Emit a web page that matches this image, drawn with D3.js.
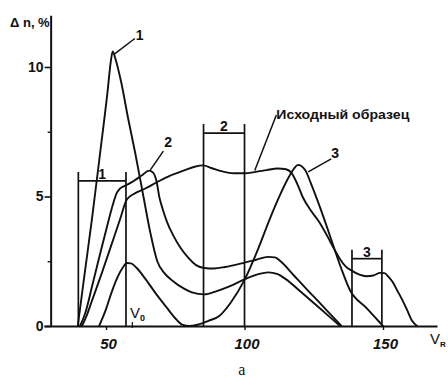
<!DOCTYPE html>
<html>
<head>
<meta charset="utf-8">
<script src="https://cdn.jsdelivr.net/npm/d3@7"></script>
<style>
  body { margin: 0; background: #fff; }
  svg text { fill: #111; }
</style>
</head>
<body>
<svg id="chart" width="448" height="378"></svg>
<script>
// Δn (%) against V_R for the fractions and the starting sample
const curve1 = [[39.8,0],[42,1.8],[45,4.2],[48,6.8],[50.5,9.0],[51.7,10.2],[52.4,10.6],[53.3,10.35],
  [55.5,9.4],[58,8.0],[60.5,6.7],[63.5,5.0],[66,3.6],[68.5,2.5],[71,2.05],[74,1.75],[78,1.45],
  [81,1.3],[85.5,1.22],[90,1.35],[95,1.55],[100,1.8],[105,2.0],[108.5,2.07],[112,2.0],[115,1.8],
  [120,1.35],[125,0.89],[130,0.42],[134.5,0]];

const curve2 = [[40.6,0],[42.5,0.5],[45,1.55],[48,2.85],[50.5,3.9],[52.5,4.7],[53.8,5.12],[55,5.3],
  [57,5.42],[60,5.6],[63,5.82],[65.5,6.0],[67,5.92],[68.2,5.6],[69.3,4.95],[70.5,4.5],[72,4.02],
  [74.5,3.45],[77,3.0],[80,2.6],[82.5,2.35],[85.5,2.24],[89,2.22],[93,2.28],[99,2.42],[104,2.55],
  [108.5,2.67],[111,2.65],[113,2.5],[118,1.93],[123,1.36],[128,0.8],[132,0.34],[135,0]];

const curve3 = [[47.5,0],[50,0.65],[52,1.3],[54,1.85],[56,2.25],[57.5,2.43],[59,2.42],[61,2.25],
  [64,1.85],[68,1.25],[72,0.7],[75,0.3],[77.5,0.05],[80,0],[83,0.05],[87,0.2],[91,0.4],[95,0.9],
  [100,1.78],[105,3.0],[109,4.1],[113,5.1],[116,5.75],[118,6.1],[119.3,6.22],[120.5,6.18],[122,6.0],
  [124,5.5],[127.2,4.6],[130,3.75],[132.6,2.93],[135,2.2],[138,1.4],[144,0.7],[150,0]];

const original = [[41.3,0],[43,0.4],[45,1.0],[48.5,2.05],[52,3.15],[55,4.1],[57.5,4.88],[60,5.1],
  [64,5.3],[68.5,5.56],[73,5.8],[78,6.0],[82,6.15],[85,6.2],[88,6.1],[92,5.97],[96,5.9],[100,5.9],
  [104,5.95],[108,6.02],[112,6.08],[115,6.05],[117,5.9],[119,5.5],[121,4.98],[124,4.45],[127.2,3.98],
  [130,3.45],[132.6,2.93],[134.4,2.6],[136.5,2.3],[139,2.12],[141.5,1.98],[144,1.92],[146.5,1.95],
  [149,2.05],[150.5,2.04],[152,1.9],[153.5,1.7],[155,1.4],[157,1.0],[158.7,0.62],[160.5,0.2],[162.3,0]];

// collection windows of the fractions: label, V_R from, V_R to, level of the bar (Δn)
const windowLabels = ["1", "2", "3"];
const windowFrom   = [40, 85.2, 138.8];
const windowTo     = [57.2, 100, 149.6];
const windowLevel  = [5.6, 7.45, 2.6];

const yTicks = [0, 5, 10];
const yMinorTicks = [2.5, 7.5];
const xTicks = [50, 100, 150];

const yTitle = "Δ n, %";
const seriesLabel = "Исходный образец";
const panelLabel = "a";

const svg = d3.select("#chart");
const x = d3.scaleLinear().domain([27.6, 169.5]).range([44, 437]);
const y = d3.scaleLinear().domain([0, 12]).range([326, 15.2]);

const ink = "#111";
const fontSans = "'Liberation Sans', Arial, sans-serif";

// axes
const yAxisX = x(30);
const yAxis = d3.axisLeft(y).tickValues(yTicks).tickSize(6).tickSizeOuter(0).tickFormat(d3.format("d"));
const gy = svg.append("g").attr("transform", `translate(${yAxisX},0)`).call(yAxis);
gy.select(".domain").attr("stroke", ink).attr("stroke-width", 2);
gy.selectAll(".tick line").attr("stroke", ink).attr("stroke-width", 1.6);
gy.selectAll(".tick text").attr("font-family", fontSans).attr("font-size", 14)
  .attr("font-weight", "bold").attr("fill", ink).attr("x", -7);

const yMinor = d3.axisLeft(y).tickValues(yMinorTicks).tickSize(3).tickSizeOuter(0).tickFormat("");
const gym = svg.append("g").attr("transform", `translate(${yAxisX},0)`).call(yMinor);
gym.select(".domain").remove();
gym.selectAll(".tick line").attr("stroke", ink).attr("stroke-width", 1.4);

const xAxis = d3.axisBottom(x).tickValues(xTicks).tickSize(4).tickSizeOuter(0).tickFormat(d3.format("d"));
const gx = svg.append("g").attr("transform", `translate(0,${y(0)})`).call(xAxis);
gx.select(".domain").attr("stroke", ink).attr("stroke-width", 2);
gx.selectAll(".tick line").attr("stroke", ink).attr("stroke-width", 1.4);
gx.selectAll(".tick text").attr("font-family", fontSans).attr("font-size", 15)
  .attr("font-style", "italic").attr("font-weight", "bold").attr("fill", ink)
  .attr("dy", "1.05em").attr("dx", 2);

// fraction windows: two verticals down to the axis and a bar across
windowLabels.forEach((lab, i) => {
  const g = svg.append("g").attr("stroke", ink).attr("stroke-width", 1.7).attr("fill", "none");
  const top = y(windowLevel[i]) - 9;
  g.append("line").attr("x1", x(windowFrom[i])).attr("x2", x(windowFrom[i]))
    .attr("y1", top).attr("y2", y(0));
  g.append("line").attr("x1", x(windowTo[i])).attr("x2", x(windowTo[i]))
    .attr("y1", top).attr("y2", y(0));
  g.append("line").attr("x1", x(windowFrom[i])).attr("x2", x(windowTo[i]))
    .attr("y1", y(windowLevel[i])).attr("y2", y(windowLevel[i]));
  svg.append("text").attr("x", (x(windowFrom[i]) + x(windowTo[i])) / 2)
    .attr("y", y(windowLevel[i]) - 2).attr("text-anchor", "middle")
    .attr("font-family", fontSans).attr("font-size", 14).attr("font-weight", "bold").text(lab);
});

// curves
const line = d3.line().x(d => x(d[0])).y(d => y(d[1])).curve(d3.curveMonotoneX);
[curve1, curve2, curve3, original].forEach(c => {
  svg.append("path").datum(c).attr("d", line)
    .attr("fill", "none").attr("stroke", ink).attr("stroke-width", 1.9)
    .attr("stroke-linejoin", "round").attr("stroke-linecap", "round");
});

// leader lines and curve labels
function leader(from, to, text, anchor, fs, tx, ty) {
  svg.append("line").attr("x1", x(from[0])).attr("y1", y(from[1]))
    .attr("x2", x(to[0])).attr("y2", y(to[1]))
    .attr("stroke", ink).attr("stroke-width", 1.5);
  return svg.append("text").attr("x", x(to[0]) + tx).attr("y", y(to[1]) + ty)
    .attr("text-anchor", anchor).attr("font-family", fontSans)
    .attr("font-size", fs).attr("font-weight", "bold").text(text);
}
leader([53, 10.5], [60.4, 11.1], "1", "start", 14, 1, 1);
leader([66, 6.03], [70.7, 6.75], "2", "start", 14, 1, -4);
leader([103.7, 6.0], [111.5, 8.15], seriesLabel, "start", 13, 0, 4)
  .attr("textLength", 133).attr("lengthAdjust", "spacingAndGlyphs");
leader([123, 5.95], [131.3, 6.45], "3", "start", 14, 0, -1);

// V0 marker
const v0 = svg.append("text").attr("x", x(57.2) + 4).attr("y", y(0) - 8)
  .attr("font-family", fontSans).attr("font-size", 15).text("V");
v0.append("tspan").attr("font-size", 9).attr("dy", 3).attr("font-weight", "bold").text("0");
svg.append("line").attr("x1", x(59.5)).attr("x2", x(59.5)).attr("y1", y(0) - 4).attr("y2", y(0) + 2)
  .attr("stroke", ink).attr("stroke-width", 1.2);

// axis titles
svg.append("text").attr("x", 10).attr("y", 27).attr("font-family", fontSans)
  .attr("font-size", 13).attr("font-weight", "bold").text(yTitle);
const vr = svg.append("text").attr("x", 430).attr("y", 344).attr("font-family", fontSans)
  .attr("font-size", 15).text("V");
vr.append("tspan").attr("font-size", 8).attr("dy", 3).attr("font-weight", "bold").text("R");

svg.append("text").attr("x", x(99)).attr("y", 375).attr("text-anchor", "middle")
  .attr("font-family", "'Liberation Serif', 'Times New Roman', serif").attr("font-size", 16).text(panelLabel);
</script>
</body>
</html>
